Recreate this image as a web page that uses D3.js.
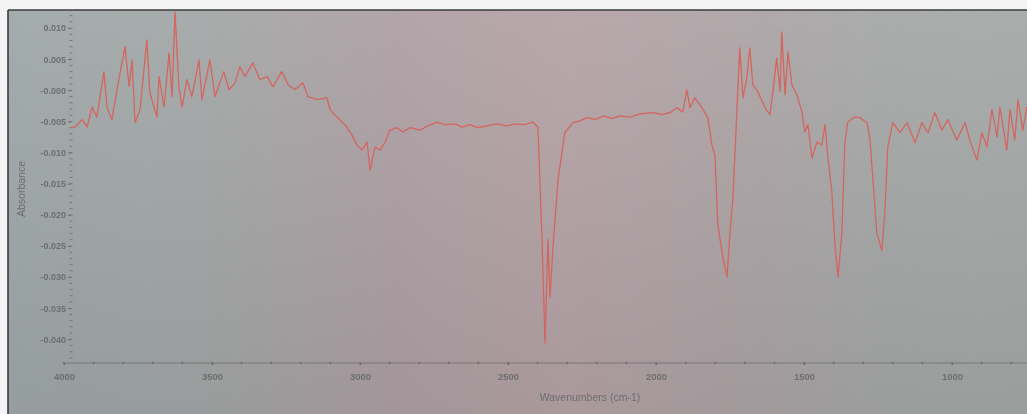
<!DOCTYPE html>
<html>
<head>
<meta charset="utf-8">
<script src="https://cdn.jsdelivr.net/npm/d3@7"></script>
<style>
  html, body { margin: 0; padding: 0; background: #f2f2f2; }
  svg { display: block; }
</style>
</head>
<body>
<svg id="chart" width="1027" height="414"></svg>
<script>
// ---- data ----
const wavenumbers = [
  3973, 3963, 3939, 3922, 3905, 3889, 3865, 3855, 3838, 3821,
  3794, 3780, 3770, 3760, 3743, 3720, 3710, 3686, 3679, 3662,
  3645, 3635, 3625, 3612, 3601, 3585, 3568, 3544, 3534, 3507,
  3490, 3460, 3443, 3422, 3406, 3389, 3362, 3338, 3314, 3294,
  3264, 3243, 3220, 3193, 3176, 3145, 3112, 3101, 3078, 3051,
  3027, 3010, 2993, 2976, 2966, 2949, 2933, 2916, 2899, 2875,
  2855, 2831, 2797, 2770, 2740, 2713, 2679, 2655, 2629, 2602,
  2571, 2537, 2504, 2475, 2443, 2416, 2399, 2385, 2375, 2365,
  2358, 2348, 2331, 2308, 2281, 2257, 2233, 2206, 2179, 2149,
  2122, 2088, 2054, 2010, 1980, 1953, 1929, 1909, 1896, 1885,
  1869, 1845, 1825, 1811, 1801, 1791, 1774, 1760, 1750, 1740,
  1727, 1717, 1706, 1693, 1683, 1673, 1656, 1632, 1615, 1605,
  1592, 1581, 1575, 1564, 1554, 1541, 1524, 1507, 1497, 1487,
  1473, 1456, 1440, 1429, 1419, 1406, 1396, 1385, 1372, 1362,
  1352, 1328, 1311, 1287, 1277, 1267, 1254, 1237, 1227, 1217,
  1200, 1176, 1152, 1125, 1102, 1081, 1058, 1034, 1014, 984,
  956, 940, 916, 899, 882, 865, 848, 838, 815, 804,
  788, 777, 761, 747, 720
];
const absorbance = [
  -0.0060, -0.0059, -0.0047, -0.0059, -0.0027, -0.0043, 0.0030, -0.0027, -0.0047, 0.0001,
  0.0070, 0.0006, 0.0049, -0.0052, -0.0031, 0.0081, -0.0004, -0.0043, 0.0022, -0.0027,
  0.0060, -0.0010, 0.0126, 0.0006, -0.0027, 0.0017, -0.0010, 0.0049, -0.0015, 0.0049,
  -0.0010, 0.0030, 0.0001, 0.0012, 0.0038, 0.0022, 0.0044, 0.0017, 0.0022, 0.0006,
  0.0030, 0.0009, 0.0001, 0.0012, -0.0010, -0.0015, -0.0012, -0.0031, -0.0043, -0.0055,
  -0.0072, -0.0088, -0.0096, -0.0083, -0.0128, -0.0091, -0.0096, -0.0084, -0.0064, -0.0060,
  -0.0067, -0.0060, -0.0064, -0.0057, -0.0051, -0.0055, -0.0054, -0.0059, -0.0055, -0.0060,
  -0.0057, -0.0054, -0.0057, -0.0054, -0.0055, -0.0051, -0.0059, -0.0240, -0.0406, -0.0240,
  -0.0332, -0.0252, -0.0144, -0.0068, -0.0052, -0.0049, -0.0044, -0.0047, -0.0041, -0.0045,
  -0.0041, -0.0043, -0.0038, -0.0036, -0.0039, -0.0036, -0.0028, -0.0035, 0.0001, -0.0028,
  -0.0012, -0.0028, -0.0044, -0.0088, -0.0104, -0.0216, -0.0269, -0.0300, -0.0228, -0.0173,
  -0.0035, 0.0068, -0.0012, 0.0020, 0.0068, 0.0009, -0.0002, -0.0028, -0.0039, -0.0002,
  0.0052, -0.0002, 0.0094, -0.0007, 0.0062, 0.0009, -0.0007, -0.0035, -0.0067, -0.0055,
  -0.0109, -0.0083, -0.0088, -0.0055, -0.0109, -0.0163, -0.0244, -0.0300, -0.0228, -0.0083,
  -0.0051, -0.0043, -0.0044, -0.0052, -0.0080, -0.0144, -0.0229, -0.0257, -0.0197, -0.0091,
  -0.0052, -0.0068, -0.0052, -0.0084, -0.0052, -0.0068, -0.0036, -0.0064, -0.0047, -0.0080,
  -0.0052, -0.0080, -0.0112, -0.0068, -0.0091, -0.0031, -0.0075, -0.0027, -0.0096, -0.0031,
  -0.0080, -0.0015, -0.0064, -0.0027, -0.0015
];
const yTickValues = [0.010, 0.005, 0.000, -0.005, -0.010, -0.015, -0.020, -0.025, -0.030, -0.035, -0.040];
const yTickLabels = ["0.010", "0.005", "-0.000", "-0.005", "-0.010", "-0.015", "-0.020", "-0.025", "-0.030", "-0.035", "-0.040"];
const xTickValues = [4000, 3500, 3000, 2500, 2000, 1500, 1000];
const xTickLabels = ["4000", "3500", "3000", "2500", "2000", "1500", "1000"];
const xAxisTitle = "Wavenumbers (cm-1)";
const yAxisTitle = "Absorbance";

// ---- drawing ----
const W = 1027, H = 414;
const svg = d3.select("#chart");
const frameL = 8, frameT = 10;

const x = d3.scaleLinear().domain([4000, 1000]).range([64, 952]);
const y = d3.scaleLinear().domain([-0.0438, 0.0129]).range([363, 10]);

const defs = svg.append("defs");
const grad = defs.append("linearGradient").attr("id", "bg").attr("x1", "0").attr("x2", "1").attr("y1", "0").attr("y2", "0");
[["0%", "#9ea7a8"], ["20%", "#a3a6a6"], ["38%", "#ad9fa3"], ["55%", "#b4a2a6"], ["72%", "#aca3a5"], ["85%", "#a5a7a6"], ["100%", "#a3a8a7"]]
  .forEach(([o, c]) => grad.append("stop").attr("offset", o).attr("stop-color", c));
const vgrad = defs.append("linearGradient").attr("id", "shade").attr("x1", "0").attr("x2", "0").attr("y1", "0").attr("y2", "1");
vgrad.append("stop").attr("offset", "0%").attr("stop-color", "#ffffff").attr("stop-opacity", 0.06);
vgrad.append("stop").attr("offset", "100%").attr("stop-color", "#000000").attr("stop-opacity", 0.06);
defs.append("filter").attr("id", "soft").append("feGaussianBlur").attr("stdDeviation", 0.5);
defs.append("filter").attr("id", "softline").append("feGaussianBlur").attr("stdDeviation", 0.35);

svg.append("rect").attr("x", 0).attr("y", 0).attr("width", W).attr("height", H).attr("fill", "#f4f4f4");
svg.append("rect").attr("x", frameL).attr("y", frameT).attr("width", W - frameL).attr("height", H - frameT).attr("fill", "url(#bg)");
svg.append("rect").attr("x", frameL).attr("y", frameT).attr("width", W - frameL).attr("height", H - frameT).attr("fill", "url(#shade)");

// frame lines
svg.append("line").attr("x1", frameL).attr("x2", frameL).attr("y1", frameT).attr("y2", H)
  .attr("stroke", "#3c3c3c").attr("stroke-width", 1.6);
svg.append("line").attr("x1", frameL).attr("x2", W).attr("y1", frameT).attr("y2", frameT)
  .attr("stroke", "#3c3c3c").attr("stroke-width", 1.6);

const axisColor = "#6c6c6c";
const labelColor = "#6e6e6e";
const fontFam = "Liberation Sans, Arial, sans-serif";

// y axis
const yAxisG = svg.append("g").attr("transform", "translate(71,0)").attr("filter", "url(#soft)");
const yMinor = d3.range(-0.043, 0.0125, 0.001);
yAxisG.selectAll("line.minor").data(yMinor).join("line")
  .attr("x1", -1.5).attr("x2", 1.5).attr("y1", d => y(d)).attr("y2", d => y(d))
  .attr("stroke", axisColor).attr("stroke-width", 0.8);
yAxisG.call(d3.axisLeft(y).tickValues(yTickValues).tickSize(3).tickPadding(2)
  .tickFormat((d, i) => yTickLabels[i]));
yAxisG.select(".domain").remove();
yAxisG.selectAll(".tick line").attr("stroke", axisColor);
yAxisG.selectAll(".tick text").attr("fill", labelColor).attr("font-size", 9)
  .attr("font-family", fontFam).attr("font-weight", "bold");

// x axis
const xAxisG = svg.append("g").attr("transform", "translate(0,363)").attr("filter", "url(#soft)");
xAxisG.append("line").attr("x1", 64).attr("x2", W).attr("y1", 0).attr("y2", 0)
  .attr("stroke", axisColor).attr("stroke-width", 0.8);
const xMinor = d3.range(4000, 600, -100);
xAxisG.selectAll("line.minor").data(xMinor).join("line")
  .attr("x1", d => x(d)).attr("x2", d => x(d)).attr("y1", -1.2).attr("y2", 1.2)
  .attr("stroke", axisColor).attr("stroke-width", 1.2);
xAxisG.call(d3.axisBottom(x).tickValues(xTickValues).tickSize(2).tickPadding(8.5)
  .tickFormat((d, i) => xTickLabels[i]));
xAxisG.select(".domain").remove();
xAxisG.selectAll(".tick line").attr("stroke", axisColor).attr("stroke-width", 1.6);
xAxisG.selectAll(".tick text").attr("fill", labelColor).attr("font-size", 9.5)
  .attr("font-family", fontFam).attr("font-weight", "bold");

// titles
svg.append("text").attr("x", 590).attr("y", 401).attr("text-anchor", "middle")
  .attr("font-size", 10.5).attr("font-family", fontFam)
  .attr("fill", labelColor).attr("filter", "url(#soft)").text(xAxisTitle);
svg.append("text").attr("transform", "translate(25,189) rotate(-90)").attr("text-anchor", "middle")
  .attr("font-size", 10.5).attr("font-family", fontFam)
  .attr("fill", labelColor).attr("filter", "url(#soft)").text(yAxisTitle);

// spectrum
const pts = wavenumbers.map((w, i) => [w, absorbance[i]]);
const line = d3.line().x(d => x(d[0])).y(d => y(d[1]));
svg.append("path").datum(pts).attr("d", line)
  .attr("fill", "none").attr("stroke", "#d4655e").attr("stroke-width", 1.3)
  .attr("stroke-linejoin", "round").attr("filter", "url(#softline)");
</script>
</body>
</html>
